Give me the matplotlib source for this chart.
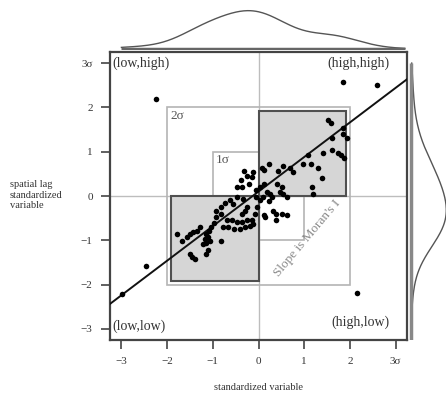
import numpy as np
import matplotlib

matplotlib.use("Agg")
from matplotlib import pyplot as plt
from matplotlib.patches import Rectangle

# standardized variable (z) and its spatial lag (Wz)
z = [
    -2.24, 1.84, 2.59, 2.15, -2.46, -2.98,
    1.53, 1.58, 1.86, 1.84, 1.93, 1.60, 1.42, 1.60, 1.75, 1.80, 1.87, 1.09,
    0.98, 1.14, 1.31, 1.40, 1.16, 1.19, 0.76, 0.54, 0.69, 0.43, 0.23, 0.07,
    0.11, -0.13, -0.32, -0.26, -0.15, -0.39, -0.48, -0.37, -0.20, -0.05,
    0.03, 0.11, 0.18, 0.25, 0.29, 0.46, 0.51, 0.54, 0.62, 0.40, -0.05, 0.03,
    0.09, 0.22,
    0.11, 0.14, 0.32, 0.38, 0.51, 0.62, 0.38, -0.04, -0.08,
    -0.33, -0.48, -0.62, -0.55, -0.73, -0.81, -0.92, -0.83, -0.93, -0.97,
    -1.03, -1.08, -1.14, -1.10, -1.06, -1.17, -1.28, -1.34, -1.43, -1.50,
    -1.57, -1.68, -1.78, -0.77, -0.81, -0.70, -0.59, -0.48, -0.37, -0.26,
    -0.15, -0.66, -0.54, -0.41, -0.30, -0.19, -0.11, -0.37, -0.30, -0.26,
    -1.14, -1.50, -1.39, -1.46, -1.10, -1.14, -1.22,
]
wz = [
    2.18, 2.58, 2.51, -2.18, -1.59, -2.21,
    1.72, 1.64, 1.53, 1.41, 1.30, 1.30, 0.96, 1.04, 0.96, 0.92, 0.85, 0.92,
    0.73, 0.73, 0.64, 0.41, 0.20, 0.05, 0.54, 0.67, 0.63, 0.57, 0.73, 0.63,
    0.58, 0.54, 0.56, 0.45, 0.42, 0.36, 0.20, 0.20, 0.28, 0.13,
    0.20, 0.28, 0.09, 0.05, -0.02, 0.09, 0.20, 0.05, -0.02, 0.26, -0.02, -0.10,
    -0.02, -0.12,
    -0.44, -0.48, -0.33, -0.40, -0.40, -0.42, -0.55, -0.25, -0.40,
    -0.06, -0.02, -0.08, -0.17, -0.16, -0.25, -0.33, -0.40, -0.48, -0.61,
    -0.70, -0.78, -0.85, -0.93, -1.01, -0.97, -0.70, -0.78, -0.82, -0.85,
    -0.93, -1.01, -0.85, -0.70, -1.01, -0.55, -0.55, -0.59, -0.59, -0.54,
    -0.55, -0.70, -0.74, -0.74, -0.70, -0.67, -0.63, -0.40, -0.33, -0.25,
    -1.31, -1.31, -1.42, -1.37, -1.23, -1.05, -1.08,
]

moran_i = 0.78
intercept = 0.1

ticks = [-3, -2, -1, 0, 1, 2, 3]
tick_labels = ["\u22123", "\u22122", "\u22121", "0", "1", "2", "3\u03c3"]
quadrant_labels = ["(low,high)", "(high,high)", "(low,low)", "(high,low)"]

SERIF = ["Liberation Serif", "DejaVu Serif"]
plt.rcParams["font.family"] = SERIF

LIM = 3.25
W, H = 446, 394


def kde(values, grid, bw):
    values = np.asarray(values)
    d = (grid[:, None] - values[None, :]) / bw
    return np.exp(-0.5 * d**2).sum(axis=1) / (len(values) * bw * np.sqrt(2 * np.pi))


fig = plt.figure(figsize=(W / 100, H / 100), dpi=100)
ax = fig.add_axes([110 / W, 54 / H, 297 / W, 288 / H])

# reference lines through the origin
ax.axvline(0, color="#bdbdbd", lw=1.0, zorder=1)
ax.axhline(0, color="#bdbdbd", lw=1.0, zorder=1)

# 1 and 2 sigma boxes
for s in (1, 2):
    ax.add_patch(Rectangle((-s, -s), 2 * s, 2 * s, fill=False,
                           edgecolor="#b4b4b4", lw=1.2, zorder=1))

# shaded high-high / low-low squares
side = 1.92
for x0 in (0, -side):
    ax.add_patch(Rectangle((x0, x0), side, side, facecolor="#d6d6d6",
                           edgecolor="#505050", lw=1.5, zorder=2))

ax.text(-1.93, 1.80, "2\u03c3", fontsize=9.5, color="#555555", va="center", ha="left")
ax.text(-0.93, 0.81, "1\u03c3", fontsize=9.5, color="#555555", va="center", ha="left")

xs = np.array([-LIM, LIM])
ax.plot(xs, intercept + moran_i * xs, color="#111111", lw=1.4, zorder=3)

ax.scatter(z, wz, s=16, color="#000000", zorder=4, linewidths=0)

ax.text(1.08, -0.95, "Slope is Moran's I", rotation=50, fontsize=9.5,
        color="#8a8a8a", ha="center", va="center")

ax.text(-3.19, 3.0, quadrant_labels[0], fontsize=10, color="#333333", ha="left", va="center")
ax.text(2.86, 3.0, quadrant_labels[1], fontsize=10, color="#333333", ha="right", va="center")
ax.text(-3.19, -2.93, quadrant_labels[2], fontsize=10, color="#333333", ha="left", va="center")
ax.text(2.86, -2.86, quadrant_labels[3], fontsize=10, color="#333333", ha="right", va="center")

ax.set_xlim(-LIM, LIM)
ax.set_ylim(-LIM, LIM)
ax.set_xticks(ticks)
ax.set_xticklabels(tick_labels)
ax.set_yticks(ticks)
ax.set_yticklabels(tick_labels)
ax.tick_params(direction="out", length=6.5, width=1.2, color="#444444",
               labelsize=8, labelcolor="#333333", pad=6)
for sp in ax.spines.values():
    sp.set_color("#444444")
    sp.set_linewidth(1.6)

fig.text(258 / W, 1 - 387 / H, "standardized variable", fontsize=7.5,
         color="#333333", ha="center", va="center")
fig.text(10 / W, 1 - 195 / H, "spatial lag\nstandardized\nvariable", fontsize=7.5,
         color="#333333", ha="left", va="center", linespacing=1.25)

# marginal densities
grid_x = np.linspace(-3.0, 3.2, 300)
dens_x = kde(z, grid_x, 0.5)
top = fig.add_axes([110 / W, 344 / H, 297 / W, 47 / H])
top.plot(grid_x, dens_x, color="#555555", lw=1.0)
top.plot(grid_x[[0, -1]], [0, 0], color="#666666", lw=2.5, solid_capstyle="butt")
top.set_xlim(-LIM, LIM)
top.set_ylim(-0.01, dens_x.max() * 1.2)
top.axis("off")

grid_y = np.linspace(-3.3, 3.0, 300)
dens_y = kde(wz, grid_y, 0.5)
right = fig.add_axes([409 / W, 54 / H, 38 / W, 288 / H])
right.plot(dens_y, grid_y, color="#555555", lw=1.0)
right.plot([0, 0], grid_y[[0, -1]], color="#888888", lw=2.5, solid_capstyle="butt")
right.set_ylim(-LIM, LIM)
right.set_xlim(-0.02, dens_y.max() * 1.02)
right.axis("off")

fig.savefig("out.png", dpi=100)
